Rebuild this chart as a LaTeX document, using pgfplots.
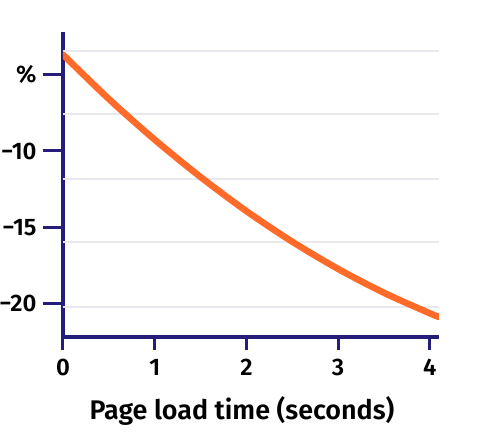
\documentclass[border=0pt]{standalone}
\usepackage{pgfplots}
\pgfplotsset{compat=1.18}
\usepackage{fontspec}
\setmainfont{Fira Sans}[UprightFont=* SemiBold]
\definecolor{axnavy}{RGB}{36,30,122}
\definecolor{lineorange}{RGB}{255,106,40}
\definecolor{gridgray}{RGB}{232,232,238}
\begin{document}
\begin{tikzpicture}
\useasboundingbox (0,0) rectangle (490bp,441bp);
\begin{axis}[
    at={(63bp,104bp)}, anchor=south west,
    scale only axis,
    width=376bp, height=305bp,
    xmin=0, xmax=4.1,
    ymin=-22.16, ymax=-2.22,
    axis x line*=bottom, axis y line*=left,
    axis line style={draw=axnavy, line width=3.2bp},
    every outer x axis line/.append style={line width=3.2bp},
    every outer y axis line/.append style={line width=3.2bp},
    tick align=outside,
    xtick={0,1,2,3,4}, xticklabels={0,1,2,3,4},
    ytick={-20,-15,-10,-5}, yticklabels={−20,−15,−10,\%},
    x tick style={axnavy, line width=3bp, /pgfplots/major tick length=13bp},
    y tick style={axnavy, line width=3bp, /pgfplots/major tick length=20bp},
    ticklabel style={font=\fontsize{24}{28}\selectfont, text=black},
    xticklabel style={inner sep=0pt, yshift=-18bp},
    yticklabel style={inner sep=0pt, xshift=-22bp},
    extra y ticks={-3.46,-7.58,-11.83,-15.95,-20.2},
    extra y tick labels={},
    extra y tick style={grid=major, major grid style={gridgray, line width=1.6bp}, tick style={draw=none}},
    xlabel={Page load time (seconds)},
    xlabel style={at={(axis description cs:0.476,0)}, anchor=base, yshift=-82bp,
        font=\fontsize{27}{32}\selectfont, text=black},
]
\addplot[lineorange, line width=6.5bp, line cap=round, smooth] coordinates {
    (0,-3.7) (0.5,-6.6) (1,-9.26) (1.5,-11.7) (2,-13.93)
    (2.5,-15.93) (3,-17.71) (3.5,-19.27) (4,-20.61) (4.1,-20.85)
};
\end{axis}
\end{tikzpicture}
\end{document}
